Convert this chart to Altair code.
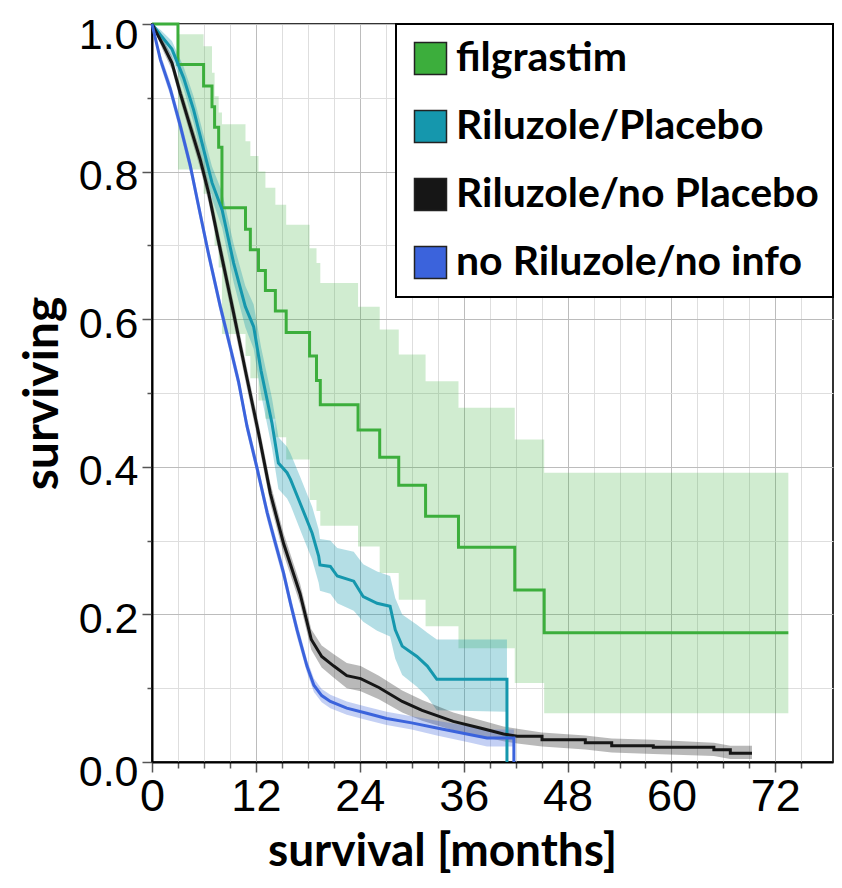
import altair as alt
import pandas as pd

# ---------------- data ----------------
SERIES = ["filgrastim", "Riluzole/Placebo", "Riluzole/no Placebo", "no Riluzole/no info"]
COLORS = ["#3cae3c", "#1597ad", "#161616", "#3b63dc"]
BAND_OPACITY = [0.24, 0.32, 0.3, 0.3]

# filgrastim: Kaplan-Meier steps (time of drop, value after drop)
green_t = [0, 3.0, 5.96, 6.93, 7.23, 7.7, 8.08, 10.8, 11.36, 12.3, 13.1, 14.25, 15.5, 18.2, 19.0,
           19.44, 23.8, 26.3, 28.5, 31.6, 35.4, 41.9, 45.3, 73.5]
green_s = [1.0, 0.945, 0.916, 0.888, 0.860, 0.833, 0.751, 0.722, 0.694, 0.666, 0.639, 0.611, 0.582,
           0.550, 0.517, 0.484, 0.450, 0.413, 0.375, 0.333, 0.291, 0.233, 0.175, 0.175]
green_lo = [1.0, 0.803, 0.770, 0.735, 0.700, 0.670, 0.580, 0.550, 0.520, 0.490, 0.465, 0.440, 0.410,
            0.355, 0.340, 0.320, 0.292, 0.256, 0.220, 0.184, 0.154, 0.107, 0.066, 0.066]
green_hi = [1.0, 0.986, 0.970, 0.934, 0.902, 0.880, 0.864, 0.841, 0.821, 0.800, 0.778, 0.755, 0.728,
            0.696, 0.676, 0.649, 0.617, 0.586, 0.552, 0.516, 0.480, 0.437, 0.392, 0.392]

# Riluzole/Placebo
teal_t = [0, 1.0, 2.3, 3.65, 4.8, 5.96, 6.93, 8.1, 9.43, 10.78, 11.74, 12.6, 13.86, 14.6, 15.6, 16.0,
          17.1, 18.5, 19.25, 19.4, 20.6, 21.4, 23.3, 24.4, 26.0, 27.5, 28.1, 28.9, 30.6, 31.8, 32.9,
          41.0, 41.0]
teal_s = [1.0, 0.985, 0.966, 0.927, 0.884, 0.830, 0.785, 0.748, 0.676, 0.617, 0.590, 0.530, 0.459,
          0.405, 0.392, 0.383, 0.351, 0.310, 0.279, 0.267, 0.265, 0.252, 0.245, 0.224, 0.215, 0.211,
          0.179, 0.157, 0.143, 0.130, 0.112, 0.112, 0.0]
teal_band_t = [0, 1.0, 2.3, 3.65, 4.8, 5.96, 6.93, 8.1, 9.43, 10.78, 11.74, 12.6, 13.86, 14.6, 15.6,
               16.0, 17.1, 18.5, 19.25, 19.4, 20.6, 21.4, 23.3, 24.4, 26.0, 27.5, 28.1, 28.9, 30.6,
               31.8, 32.9, 41.0]
teal_lo = [1.0, 0.978, 0.955, 0.912, 0.866, 0.810, 0.763, 0.724, 0.650, 0.589, 0.560, 0.498, 0.425,
           0.370, 0.357, 0.348, 0.315, 0.274, 0.243, 0.232, 0.228, 0.215, 0.205, 0.190, 0.178, 0.170,
           0.140, 0.118, 0.102, 0.088, 0.070, 0.068]
teal_hi = [1.0, 0.992, 0.977, 0.942, 0.902, 0.850, 0.807, 0.772, 0.702, 0.645, 0.620, 0.562, 0.493,
           0.440, 0.427, 0.418, 0.387, 0.346, 0.315, 0.302, 0.300, 0.290, 0.285, 0.268, 0.258, 0.252,
           0.222, 0.200, 0.186, 0.175, 0.166, 0.166]

# Riluzole/no Placebo
black_t = [0, 1.34, 2.31, 3.27, 4.42, 5.58, 6.54, 7.89, 9.43, 10.97, 12.3, 13.67, 15.2, 17.1, 18.4,
           19.6, 21.0, 22.5, 24.1, 26.2, 28.9, 31.2, 34.8, 37.9, 40.6, 42.2, 45.05, 45.05, 50.05,
           50.05, 53.1, 53.1, 57.9, 57.9, 64.9, 64.9, 66.8, 66.8, 69.3]
black_s = [1.0, 0.970, 0.947, 0.906, 0.861, 0.816, 0.771, 0.694, 0.608, 0.520, 0.446, 0.364, 0.296,
           0.228, 0.166, 0.143, 0.130, 0.117, 0.113, 0.101, 0.082, 0.070, 0.055, 0.046, 0.038, 0.035,
           0.035, 0.030, 0.030, 0.026, 0.026, 0.022, 0.022, 0.020, 0.020, 0.0167, 0.0167, 0.012, 0.012]
black_band_t = [0, 1.34, 2.31, 3.27, 4.42, 5.58, 6.54, 7.89, 9.43, 10.97, 12.3, 13.67, 15.2, 17.1,
                18.4, 19.6, 21.0, 22.5, 24.1, 26.2, 28.9, 31.2, 34.8, 37.9, 40.6, 42.2, 45.05, 50.05,
                53.1, 57.9, 64.9, 66.8, 69.3]
black_lo = [1.0, 0.962, 0.938, 0.896, 0.850, 0.804, 0.758, 0.680, 0.594, 0.506, 0.432, 0.350, 0.282,
            0.214, 0.152, 0.128, 0.114, 0.100, 0.096, 0.085, 0.067, 0.056, 0.043, 0.035, 0.028, 0.025,
            0.021, 0.017, 0.013, 0.011, 0.008, 0.004, 0.004]
black_hi = [1.0, 0.978, 0.956, 0.916, 0.872, 0.828, 0.784, 0.708, 0.622, 0.534, 0.460, 0.378, 0.310,
            0.242, 0.180, 0.158, 0.146, 0.134, 0.130, 0.117, 0.097, 0.084, 0.067, 0.057, 0.048, 0.045,
            0.040, 0.036, 0.032, 0.030, 0.026, 0.022, 0.022]

# no Riluzole/no info
blue_t = [0, 0.96, 2.11, 3.27, 4.42, 5.4, 6.5, 7.89, 9.04, 10.0, 10.97, 12.1, 13.3, 14.05, 15.2, 16.0,
          16.75, 17.9, 18.7, 19.6, 20.6, 22.5, 24.8, 27.1, 30.0, 32.9, 36.8, 38.7, 41.8, 41.8]
blue_s = [1.0, 0.952, 0.912, 0.862, 0.808, 0.752, 0.690, 0.617, 0.562, 0.515, 0.455, 0.400, 0.338,
          0.305, 0.256, 0.215, 0.179, 0.130, 0.104, 0.090, 0.082, 0.073, 0.066, 0.059, 0.053, 0.046,
          0.037, 0.0325, 0.0325, 0.0]
blue_band_t = [0, 0.96, 2.11, 3.27, 4.42, 5.4, 6.5, 7.89, 9.04, 10.0, 10.97, 12.1, 13.3, 14.05, 15.2,
               16.0, 16.75, 17.9, 18.7, 19.6, 20.6, 22.5, 24.8, 27.1, 30.0, 32.9, 36.8, 38.7, 41.8]
blue_lo = [1.0, 0.944, 0.903, 0.852, 0.798, 0.742, 0.680, 0.607, 0.552, 0.505, 0.445, 0.390, 0.328,
           0.295, 0.246, 0.205, 0.169, 0.121, 0.095, 0.081, 0.073, 0.064, 0.057, 0.050, 0.044, 0.036,
           0.026, 0.021, 0.021]
blue_hi = [1.0, 0.960, 0.921, 0.872, 0.818, 0.762, 0.700, 0.627, 0.572, 0.525, 0.465, 0.410, 0.348,
           0.315, 0.266, 0.225, 0.189, 0.139, 0.113, 0.099, 0.091, 0.082, 0.075, 0.068, 0.062, 0.056,
           0.048, 0.044, 0.044]

X_TICKS = list(range(0, 76, 3))
Y_TICKS = [i / 10 for i in range(11)]
X_MAX = 78.66

# ---------------- tables ----------------
def line_table(name, t, s):
    return pd.DataFrame({"series": name, "t": t, "s": s, "i": list(range(len(t)))})

def band_table(name, t, lo, hi):
    return pd.DataFrame({"series": name, "t": t, "lo": lo, "hi": hi})

band_tables = [
    band_table(SERIES[0], green_t, green_lo, green_hi),
    band_table(SERIES[1], teal_band_t, teal_lo, teal_hi),
    band_table(SERIES[2], black_band_t, black_lo, black_hi),
    band_table(SERIES[3], blue_band_t, blue_lo, blue_hi),
]
line_tables = [
    line_table(SERIES[0], green_t, green_s),
    line_table(SERIES[1], teal_t, teal_s),
    line_table(SERIES[2], black_t, black_s),
    line_table(SERIES[3], blue_t, blue_s),
]
# one row per series (its starting point) only to carry the legend
legend_table = pd.DataFrame({"series": SERIES, "t": [tb["t"].iloc[0] for tb in line_tables],
                             "s": [tb["s"].iloc[0] for tb in line_tables]})

# ---------------- encodings ----------------
x_axis = alt.Axis(
    values=X_TICKS,
    labelExpr="datum.value % 12 == 0 ? datum.label : ''",
    labelFont="Liberation Sans", labelFontSize=45, labelColor="black", labelPadding=2,
    labelFlush=False,
    gridColor={"condition": {"test": "datum.value % 12 == 0", "value": "#bcbcbc"}, "value": "#dedede"},
    tickSize={"condition": {"test": "datum.value % 12 == 0", "value": 10}, "value": 6},
    tickColor="#555555", tickWidth=1.5,
    domainColor="black", domainWidth=2,
    title="survival [months]", titleFont="Lato", titleFontWeight="bold", titleFontSize=46,
    titleColor="black", titleX=290, titleY=103, titleAlign="center", titleBaseline="alphabetic",
)
y_axis = alt.Axis(
    values=Y_TICKS,
    labelExpr="round(datum.value * 10) % 2 == 0 ? format(datum.value, '.1f') : ''",
    labelFont="Liberation Sans", labelFontSize=43, labelColor="black", labelPadding=4,
    labelFlush=False,
    labelOffset={"condition": [{"test": "datum.value == 0", "value": 10},
                               {"test": "datum.value == 1", "value": 11}], "value": 5},
    gridColor={"condition": {"test": "round(datum.value * 10) % 2 == 0", "value": "#bcbcbc"},
               "value": "#dedede"},
    tickSize={"condition": {"test": "round(datum.value * 10) % 2 == 0", "value": 10}, "value": 5},
    tickColor="#555555", tickWidth=1.5,
    domainColor="black", domainWidth=2,
    title="surviving", titleFont="Lato", titleFontWeight="bold", titleFontSize=48,
    titleColor="black", titleX=-95, titleY=369, titleAngle=270, titleAlign="center",
    titleBaseline="alphabetic",
)

x_scale = alt.Scale(domain=[0, X_MAX], nice=False, zero=False)
y_scale = alt.Scale(domain=[0, 1], nice=False)

legend = alt.Legend(
    title=None, orient="top-right", offset=0,
    symbolType="square", symbolSize=1024, symbolStrokeColor="#222222", symbolStrokeWidth=1.5,
    symbolOpacity=1,
    labelFont="Lato", labelFontWeight="bold", labelFontSize=41, labelColor="black",
    labelLimit=600, labelOffset=5, rowPadding=26, padding=14,
    strokeColor="black", fillColor="white",
)

layers = []
for k, tb in enumerate(band_tables):
    interp = "step-after" if k == 0 else "linear"
    layers.append(
        alt.Chart(tb).mark_area(interpolate=interp, color=COLORS[k], opacity=BAND_OPACITY[k]).encode(
            x=alt.X("t:Q", scale=x_scale, axis=x_axis),
            y=alt.Y("lo:Q", scale=y_scale, axis=y_axis),
            y2="hi",
        )
    )
for k, tb in enumerate(line_tables):
    interp = "step-after" if k == 0 else "linear"
    layers.append(
        alt.Chart(tb).mark_line(interpolate=interp, color=COLORS[k], strokeWidth=3).encode(
            x=alt.X("t:Q", scale=x_scale, axis=x_axis),
            y=alt.Y("s:Q", scale=y_scale, axis=y_axis),
            order="i:Q",
        )
    )
layers.append(
    alt.Chart(legend_table).mark_square(size=0, opacity=0).encode(
        x=alt.X("t:Q", scale=x_scale, axis=x_axis),
        y=alt.Y("s:Q", scale=y_scale, axis=y_axis),
        fill=alt.Fill("series:N", scale=alt.Scale(domain=SERIES, range=COLORS), legend=legend),
    )
)

chart = alt.layer(*layers).properties(
    width=681, height=738,
    autosize=alt.AutoSizeParams(type="none"),
    padding={"left": 144, "top": 16, "right": 1, "bottom": 113},
).configure_view(
    stroke="#333333", strokeWidth=2
).configure_legend(
    strokeWidth=2
)

chart.save("out.html", embed_options={"renderer": "svg", "actions": False})
